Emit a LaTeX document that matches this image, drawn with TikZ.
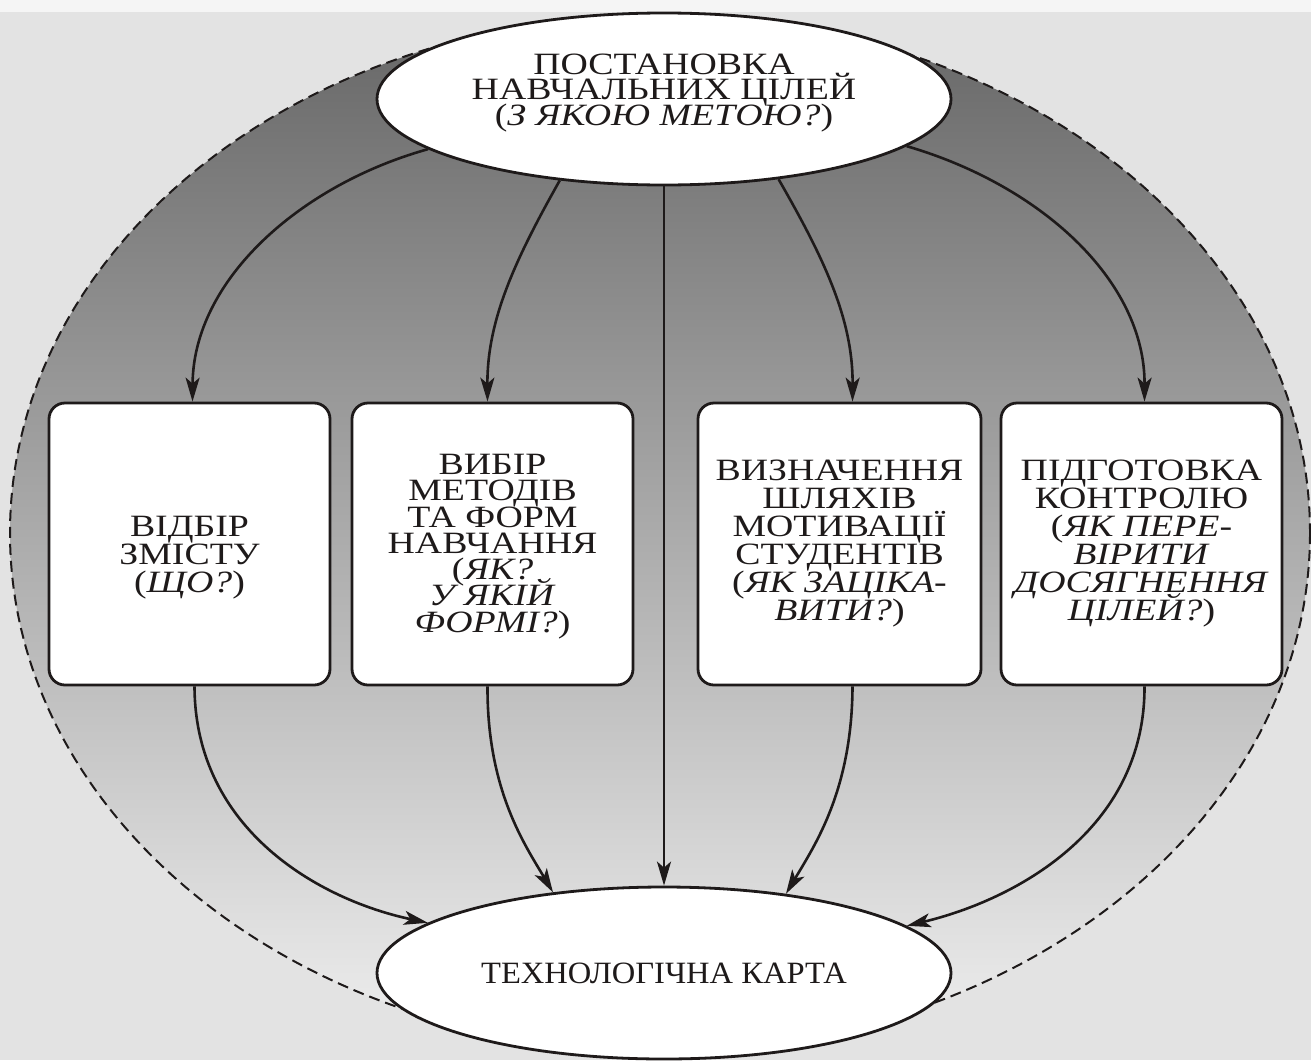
\documentclass[tikz,border=0pt]{standalone}
\usepackage{fontspec}
\setmainfont{Liberation Serif}[FakeStretch=1.22]
\newfontfamily\plainfont{Liberation Serif}[FakeStretch=1.05]
\usetikzlibrary{shapes.geometric,arrows.meta}
\definecolor{bgc}{HTML}{E3E3E3}
\definecolor{stripc}{HTML}{F5F5F5}
\definecolor{ink}{HTML}{1E1A1A}
\definecolor{shtop}{HTML}{666666}
\definecolor{shbot}{HTML}{F0F0F0}
\newcommand{\tightlines}{\lineskiplimit=-60pt\relax\lineskip=0pt\relax}
\begin{document}
\begin{tikzpicture}[x=1pt,y=-1pt,
  conn/.style={line width=2.6pt, draw=ink, -{Stealth[length=24pt,width=14pt,inset=6pt]}},
  txt/.style={font=\fontsize{31}{28}\selectfont\tightlines, text=ink},
  oval/.style={txt, ellipse, draw=ink, line width=2.8pt, fill=white, minimum width=574pt, minimum height=172pt, inner sep=0pt, align=center},
  card/.style={txt, rectangle, rounded corners=16pt, draw=ink, line width=2.8pt, fill=white, minimum width=281pt, minimum height=282pt, inner sep=0pt, align=center}]
\useasboundingbox (0,0) rectangle (1311,1060);
\fill[bgc] (0,0) rectangle (1311,1060);
\fill[stripc] (0,0) rectangle (1311,12);
% big shaded ellipse
\shade[top color=shtop, bottom color=shbot] (660,533) ellipse [x radius=650, y radius=518];
\draw[ink, line width=2pt, dash pattern=on 11pt off 6pt] (660,533) ellipse [x radius=650, y radius=518];
% nodes
\node[oval, font=\fontsize{31}{25.7}\selectfont\tightlines, text depth=19pt] (top) at (664,99) {ПОСТАНОВКА\\НАВЧАЛЬНИХ ЦІЛЕЙ\\(\textit{З ЯКОЮ МЕТОЮ?})};
\node[oval, font=\fontsize{31}{27}\selectfont\plainfont] (bot) at (664,973) {ТЕХНОЛОГІЧНА КАРТА};
\node[card, text height=103pt] (b1) at (189.5,544) {ВІДБІР\\ЗМІСТУ\\(\textit{ЩО?})};
\node[card, font=\fontsize{31}{26.3}\selectfont\tightlines, text height=183pt] (b2) at (492.5,544) {ВИБІР\\МЕТОДІВ\\ТА ФОРМ\\НАВЧАННЯ\\(\textit{ЯК?}\\\textit{У ЯКІЙ}\\\textit{ФОРМІ?})};
\node[card, minimum width=283pt] (b3) at (839.5,544) {ВИЗНАЧЕННЯ\\ШЛЯХІВ\\МОТИВАЦІЇ\\СТУДЕНТІВ\\(\textit{ЯК ЗАЦІКА-}\\\textit{ВИТИ?})};
\node[card] (b4) at (1141.5,544) {ПІДГОТОВКА\\КОНТРОЛЮ\\(\textit{ЯК ПЕРЕ-}\\\textit{ВІРИТИ}\\\textit{ДОСЯГНЕННЯ}\\\textit{ЦІЛЕЙ?})};
% top connectors
\draw[conn] (top.192) .. controls (300,185) and (193,280) .. ([xshift=3pt]b1.north);
\draw[conn] (top.218) .. controls (515,260) and (487,320) .. ([xshift=-5pt]b2.north);
\draw[conn] (top.south) -- (bot.north);
\draw[conn] (top.325) .. controls (825,260) and (853,320) .. ([xshift=13pt]b3.north);
\draw[conn] (top.349) .. controls (1040,185) and (1145,280) .. ([xshift=3pt]b4.north);
% bottom connectors
\draw[conn] ([xshift=5pt]b1.south) .. controls (195,830) and (320,900) .. (bot.168);
\draw[conn] ([xshift=-5pt]b2.south) .. controls (487,790) and (525,845) .. (bot.144);
\draw[conn] ([xshift=13pt]b3.south) .. controls (852,790) and (815,845) .. (bot.33);
\draw[conn] ([xshift=3pt]b4.south) .. controls (1145,830) and (1015,900) .. (bot.11);
\end{tikzpicture}
\end{document}
